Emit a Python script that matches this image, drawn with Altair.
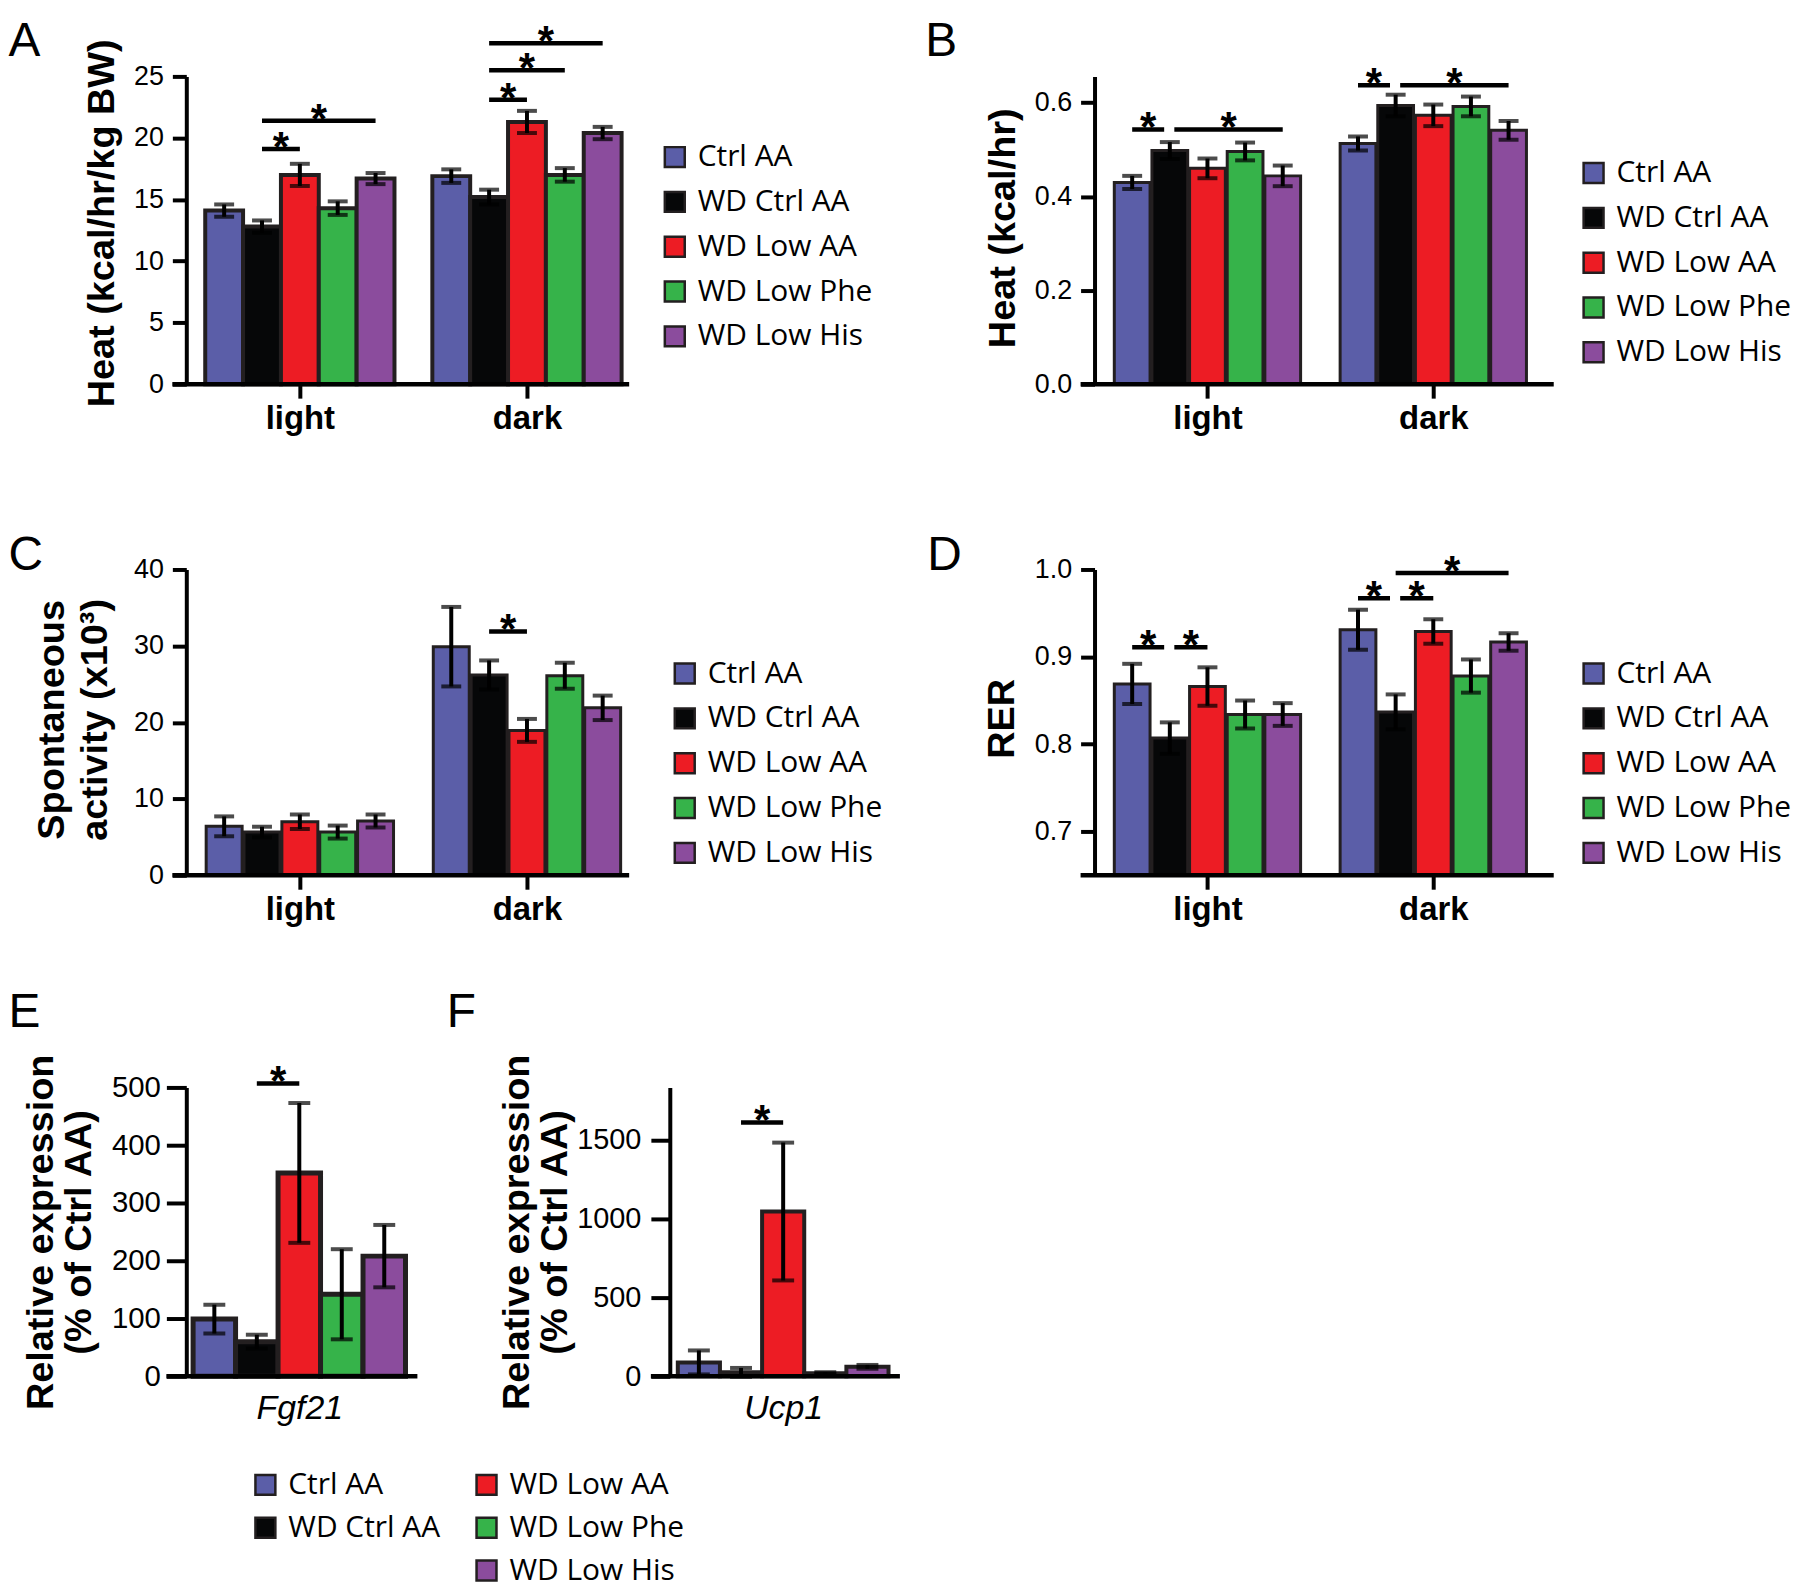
import altair as alt
import pandas as pd

GROUPS = ["Ctrl AA", "WD Ctrl AA", "WD Low AA", "WD Low Phe", "WD Low His"]
COLORS = ["#5B5EA8", "#060708", "#ED1C24", "#36B34A", "#8B4C9D"]
PERIODS = ["light", "dark"]

# ---- Panel A: Heat (kcal/hr/kg BW)
A_light = [14.1, 12.8, 17.0, 14.3, 16.7]
A_light_err = [0.5, 0.5, 0.9, 0.55, 0.45]
A_dark = [16.9, 15.2, 21.3, 17.0, 20.4]
A_dark_err = [0.55, 0.6, 0.9, 0.55, 0.5]
A_sig = [("light", 1, 2, 19.1), ("light", 1, 4, 21.4),
         ("dark", 1, 2, 23.1), ("dark", 1, 3, 25.5), ("dark", 1, 4, 27.7)]

# ---- Panel B: Heat (kcal/hr)
B_light = [0.430, 0.498, 0.460, 0.496, 0.444]
B_light_err = [0.014, 0.018, 0.021, 0.019, 0.022]
B_dark = [0.513, 0.594, 0.573, 0.592, 0.541]
B_dark_err = [0.015, 0.023, 0.023, 0.021, 0.020]
B_sig = [("light", 0, 1, 0.543), ("light", 1, 4, 0.543),
         ("dark", 0, 1, 0.637), ("dark", 1, 4, 0.637)]

# ---- Panel C: Spontaneous activity (x10^3)
C_light = [6.4, 5.65, 7.0, 5.65, 7.1]
C_light_err = [1.3, 0.7, 0.95, 0.85, 0.85]
C_dark = [29.9, 26.2, 18.95, 26.1, 21.9]
C_dark_err = [5.2, 1.9, 1.5, 1.7, 1.6]
C_sig = [("dark", 1, 2, 31.9)]

# ---- Panel D: RER
D_light = [0.869, 0.807, 0.866, 0.834, 0.834]
D_light_err = [0.023, 0.018, 0.022, 0.016, 0.013]
D_dark = [0.931, 0.837, 0.929, 0.878, 0.917]
D_dark_err = [0.023, 0.020, 0.014, 0.019, 0.010]
D_sig = [("light", 0, 1, 0.911), ("light", 1, 2, 0.911),
         ("dark", 0, 1, 0.967), ("dark", 1, 2, 0.967), ("dark", 1, 4, 0.996)]

# ---- Panel E: Fgf21 relative expression
E_vals = [99, 60, 352, 142, 208]
E_err = [25, 12, 121, 78, 54]
E_sig = [("Fgf21", 1, 2, 507)]

# ---- Panel F: Ucp1 relative expression
F_vals = [88, 25, 1045, 20, 60]
F_err = [76, 28, 437, 6, 12]
F_sig = [("Ucp1", 1, 2, 1610)]

SANS = "Liberation Sans, Arial, Helvetica, sans-serif"
LEG_FONT = "Open Sans, Segoe UI, sans-serif"
OUTLINE = "#231F20"


def bars_df(values_by_period, errors_by_period, periods):
    rows = []
    for pi, (vals, errs) in enumerate(zip(values_by_period, errors_by_period)):
        for gi, (v, e) in enumerate(zip(vals, errs)):
            rows.append({"group": GROUPS[gi], "period": periods[pi], "pos": pi * 6 + gi,
                         "value": v, "lo": v - e, "hi": v + e})
    return pd.DataFrame(rows)


def sig_df(sig, periods):
    rows = []
    for (p, a, b, y) in sig:
        pi = periods.index(p)
        xa, xb = pi * 6 + a, pi * 6 + b
        for (p2, a2, b2, y2) in sig:
            if p2 == p and y2 == y and (a2, b2) != (a, b):
                if b2 == a:
                    xa += 0.12
                if a2 == b:
                    xb -= 0.15
        rows.append({"xa": xa, "xb": xb, "xm": (xa + xb) / 2, "ys": y})
    return pd.DataFrame(rows)


def legend_layer(groups, lx, ly, row_pad):
    rng = [COLORS[GROUPS.index(g)] for g in groups]
    return alt.Chart(alt.Data(values=[{"group": g} for g in groups])).transform_filter(
        "false"
    ).mark_square(size=400, stroke=OUTLINE, strokeWidth=2.5).encode(
        color=alt.Color(
            "group:N",
            scale=alt.Scale(domain=list(groups), range=rng),
            legend=alt.Legend(
                orient="none", legendX=lx, legendY=ly, title=None, symbolType="square",
                symbolSize=400, symbolOpacity=1, symbolStrokeColor=OUTLINE, symbolStrokeWidth=2.5,
                labelFont=LEG_FONT, labelFontSize=30, labelColor="black", labelOffset=8,
                rowPadding=row_pad, padding=0, labelLimit=400, offset=0,
            ),
        )
    )


def make_panel(p):
    W, H = p["W"], p["H"]
    xs = alt.Scale(domain=p["xdom"], nice=False, zero=False)
    ys = alt.Scale(domain=p["ydom"], nice=False, zero=False)
    df = p["bars"]
    half = p["barw"] / 2
    xaxis = alt.Axis(
        values=p["xvals"], labelExpr=p["xlabel"], title=None, domain=False, grid=False,
        ticks=p["xticks"], tickSize=p["xtickSize"], tickWidth=4, tickColor="black",
        labelFont=SANS, labelFontSize=p["xfs"], labelFontWeight=p["xfw"],
        labelFontStyle=p["xstyle"], labelColor="black", labelPadding=p["xpad"],
        labelAngle=0, orient="bottom",
    )
    yaxis = alt.Axis(
        values=p["yvals"], format=p["yfmt"], grid=False, domain=True, domainColor="black",
        domainWidth=4, ticks=True, tickSize=p["ytick"], tickWidth=4, tickColor="black",
        labelFont=SANS, labelFontSize=p["yfs"], labelColor="black", labelPadding=p["ypad"],
        title=p["ytitle"], titleFont=SANS, titleFontSize=38, titleFontWeight="bold",
        titleColor="black", titleAngle=270, titleAlign="center", titleBaseline="middle",
        titleX=p["tx"], titleY=p["ty"], titleLineHeight=p["tlh"], orient="left",
    )
    X = lambda f: alt.X(f, scale=xs, axis=xaxis)
    Y = lambda f: alt.Y(f, scale=ys, axis=yaxis)
    bars = alt.Chart(df).transform_calculate(
        x0=f"datum.pos - {half}", x1=f"datum.pos + {half}"
    ).mark_rect(stroke=OUTLINE, strokeWidth=p["sw"]).encode(
        x=X("x0:Q"),
        x2="x1:Q",
        y=Y("value:Q"),
        y2=alt.datum(p["ydom"][0]),
        color=alt.Color("group:N", scale=alt.Scale(domain=GROUPS, range=COLORS), legend=None),
    )
    err = alt.Chart(df).mark_rule(color="black", strokeWidth=4).encode(
        x=X("pos:Q"), y=Y("lo:Q"), y2="hi:Q",
    )
    cap_hi = alt.Chart(df).mark_tick(color="black", thickness=4, size=p["cap"], orient="horizontal").encode(
        x=X("pos:Q"), y=Y("hi:Q")
    )
    cap_lo = alt.Chart(df).mark_tick(color="black", thickness=4, size=p["cap"], orient="horizontal").encode(
        x=X("pos:Q"), y=Y("lo:Q")
    )
    sdf = p["sig"]
    sig_lines = alt.Chart(sdf).mark_rule(color="black", strokeWidth=4.5).encode(
        x=X("xa:Q"), x2="xb:Q", y=Y("ys:Q")
    )
    stars = alt.Chart(sdf).mark_text(
        text="*", font=SANS, fontSize=42, fontWeight="bold", baseline="alphabetic", dy=12, color="black"
    ).encode(x=X("xm:Q"), y=Y("ys:Q"))
    one = alt.Data(values=[{"k": 0}])
    xline = alt.Chart(one).mark_rule(color="black", strokeWidth=4.5).encode(
        x=alt.value(-p["ext"]), x2=alt.value(W), y=alt.value(H)
    )
    frame = alt.Chart(one).mark_rule(strokeWidth=0, opacity=0).encode(
        x=alt.value(p["fx"]), y=alt.value(-p["top"]), y2=alt.value(H + p["bottom"])
    )
    letter = alt.Chart(alt.Data(values=[{"t": p["letter"]}])).mark_text(
        font=SANS, fontSize=48, align="left", baseline="alphabetic", color="black"
    ).encode(text="t:N", x=alt.value(p["lx"]), y=alt.value(p["ly"]))
    legends = [legend_layer(*lg) for lg in p["legends"]]
    layers = [bars, err, cap_hi, cap_lo, sig_lines, stars, xline, frame, letter] + legends
    return alt.layer(*layers).properties(width=W, height=H).resolve_scale(
        color="independent"
    ).resolve_legend(color="independent")


LD = "datum.value < 5 ? 'light' : 'dark'"
common_ld = dict(xvals=[2, 8], xlabel=LD, xticks=True, xtickSize=14, xfs=33, xfw="bold",
                 xstyle="normal", xpad=4, ytick=14, ypad=9, yfs=27, cap=20, ext=14)

pA = make_panel(dict(
    common_ld, W=444.6, H=309, xdom=[-1, 10.7], ydom=[0, 25], yvals=[0, 5, 10, 15, 20, 25], yfmt="d",
    ytitle="Heat (kcal/hr/kg BW)", tx=-84, ty=147, tlh=40, barw=1.0, sw=4,
    bars=bars_df([A_light, A_dark], [A_light_err, A_dark_err], PERIODS), sig=sig_df(A_sig, PERIODS),
    fx=-178.6, top=65, bottom=100.5, letter="A", lx=-178.6, ly=-20,
    legends=[(GROUPS, 475.4, 66, 15)],
))
pB = make_panel(dict(
    common_ld, W=461, H=309, xdom=[-1, 11.2], ydom=[0, 0.656], yvals=[0, 0.2, 0.4, 0.6], yfmt=".1f",
    ytitle="Heat (kcal/hr)", tx=-91, ty=152, tlh=40, barw=0.95, sw=3,
    bars=bars_df([B_light, B_dark], [B_light_err, B_dark_err], PERIODS), sig=sig_df(B_sig, PERIODS),
    fx=0, top=65, bottom=100.5, letter="B", lx=-170, ly=-20,
    legends=[(GROUPS, 486, 82, 15)],
))
pC = make_panel(dict(
    common_ld, W=444.6, H=307, xdom=[-1, 10.7], ydom=[0, 40], yvals=[0, 10, 20, 30, 40], yfmt="d",
    ytitle=["Spontaneous", "activity (x10³)"], tx=-134.6, ty=150.5, tlh=44, barw=0.95, sw=3,
    bars=bars_df([C_light, C_dark], [C_light_err, C_dark_err], PERIODS), sig=sig_df(C_sig, PERIODS),
    fx=-178.6, top=45, bottom=62.5, letter="C", lx=-178.6, ly=0.5,
    legends=[(GROUPS, 485.4, 89.5, 15)],
))
pD = make_panel(dict(
    common_ld, W=461, H=307, xdom=[-1, 11.2], ydom=[0.65, 1.0], yvals=[0.7, 0.8, 0.9, 1.0], yfmt=".1f",
    ytitle="RER", tx=-92, ty=149.5, tlh=40, barw=0.95, sw=3,
    bars=bars_df([D_light, D_dark], [D_light_err, D_dark_err], PERIODS), sig=sig_df(D_sig, PERIODS),
    fx=0, top=45, bottom=62.5, letter="D", lx=-168, ly=0.5,
    legends=[(GROUPS, 486, 89.5, 15)],
))
pE = make_panel(dict(
    W=232, H=290, xdom=[-0.66, 4.78], ydom=[0, 500], yvals=[0, 100, 200, 300, 400, 500], yfmt="d",
    ytick=20, ypad=6, yfs=29.5, ytitle=["Relative expression", "(% of Ctrl AA)"], tx=-145.6, ty=145, tlh=38,
    xvals=[2], xlabel="'Fgf21'", xticks=False, xtickSize=0, xfs=34, xfw="normal", xstyle="italic", xpad=15,
    barw=1.0, sw=5, cap=22, ext=20,
    bars=bars_df([E_vals], [E_err], ["Fgf21"]), sig=sig_df(E_sig, ["Fgf21"]),
    fx=-178.6, top=110, bottom=500, letter="E", lx=-178.6, ly=-61,
    legends=[(GROUPS[:2], 64.4, 384, 13), (GROUPS[2:], 286.4, 384, 13)],
))
pF = make_panel(dict(
    W=231, H=290, xdom=[-0.69, 4.77], ydom=[0, 1832], yvals=[0, 500, 1000, 1500], yfmt="d",
    ytick=19, ypad=10, yfs=29, ytitle=["Relative expression", "(% of Ctrl AA)"], tx=-153, ty=145, tlh=38,
    xvals=[2], xlabel="'Ucp1'", xticks=False, xtickSize=0, xfs=34, xfw="normal", xstyle="italic", xpad=15,
    barw=1.0, sw=4, cap=22, ext=19,
    bars=bars_df([F_vals], [F_err], ["Ucp1"]), sig=sig_df(F_sig, ["Ucp1"]),
    fx=0, top=110, bottom=500, letter="F", lx=-224, ly=-61,
    legends=[],
))

row1 = alt.hconcat(pA, pB, spacing=466.8, bounds="flush").resolve_scale(color="independent").resolve_legend(color="independent")
row2 = alt.hconcat(pC, pD, spacing=466.8, bounds="flush").resolve_scale(color="independent").resolve_legend(color="independent")
row3 = alt.hconcat(pE, pF, spacing=253.4, bounds="flush").resolve_scale(color="independent").resolve_legend(color="independent")

chart = alt.vconcat(row1, row2, row3, spacing=40, bounds="full").resolve_scale(
    color="independent"
).resolve_legend(color="independent").properties(
    padding=0, background="white"
).configure_view(stroke=None)

chart.save("out.html", embed_options={"renderer": "svg", "actions": False})
